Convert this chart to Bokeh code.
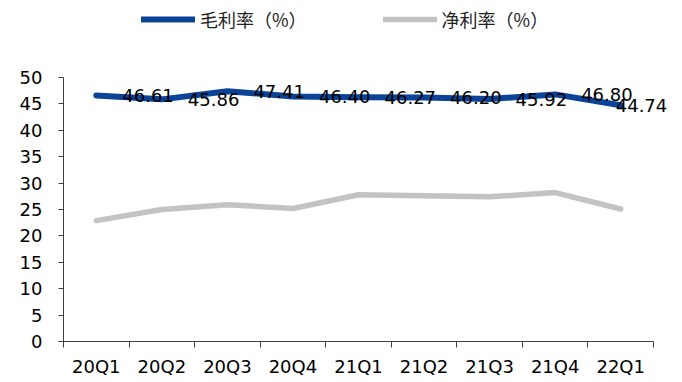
from bokeh.plotting import figure
from bokeh.models import (ColumnDataSource, Range1d, FixedTicker, Legend, LegendItem)
from bokeh.core.properties import value
from bokeh.embed import file_html
from bokeh.resources import INLINE

# Quarterly margins
quarters = ["20Q1", "20Q2", "20Q3", "20Q4", "21Q1", "21Q2", "21Q3", "21Q4", "22Q1"]
gross_margin = [46.61, 45.86, 47.41, 46.40, 46.27, 46.20, 45.92, 46.80, 44.74]
net_margin = [22.9, 25.0, 25.9, 25.2, 27.8, 27.6, 27.4, 28.2, 25.1]
y_ticks = [0, 5, 10, 15, 20, 25, 30, 35, 40, 45, 50]

BLUE = "#0a4398"
GREY = "#c3c3c3"
NUM_FONT = "DejaVu Sans"
CJK_FONT = "Noto Sans CJK SC"

W, H = 682, 382
LEFT, BOTTOM = 63, 41          # room for the axes
AXIS_W, AXIS_H = 590, 264      # drawn extent of the x and y axes
n = len(quarters)
y_max = y_ticks[-1]

# the frame covers the whole area right of / above the axes so that the
# legend and the data labels are never clipped; axes are bounded instead
x_hi = n * (W - LEFT) / AXIS_W
y_hi = y_max * (H - BOTTOM) / AXIS_H

xs = [i + 0.5 for i in range(n)]
# data labels sit to the right of each point; the last one is pulled back
label_dx = [26] * (n - 1) + [-5]

src = ColumnDataSource(dict(
    x=xs,
    gross=gross_margin,
    net=net_margin,
    glabel=[f"{v:.2f}" for v in gross_margin],
    dx=label_dx,
))

p = figure(width=W, height=H, output_backend="svg", toolbar_location=None,
           x_range=Range1d(0, x_hi), y_range=Range1d(0, y_hi),
           min_border_left=LEFT, min_border_right=0, min_border_top=0,
           min_border_bottom=BOTTOM)
p.outline_line_color = None
p.grid.visible = False
p.background_fill_color = "white"
p.border_fill_color = "white"

# x axis: labels at category centres, ticks at category boundaries
p.xaxis.bounds = (0, n)
p.xaxis.ticker = FixedTicker(ticks=xs, minor_ticks=list(range(n + 1)))
p.xaxis.major_label_overrides = {x: q for x, q in zip(xs, quarters)}
p.xaxis.major_tick_out = 0
p.xaxis.major_tick_in = 0
p.xaxis.minor_tick_out = 6
p.xaxis.minor_tick_in = 0
p.xaxis.major_label_standoff = 8
p.xaxis.major_label_text_font = NUM_FONT
p.xaxis.major_label_text_font_size = "18px"
p.xaxis.major_label_text_color = "black"
p.xaxis.axis_line_color = "#404040"
p.xaxis.minor_tick_line_color = "#404040"

p.yaxis.bounds = (0, y_max)
p.yaxis.ticker = FixedTicker(ticks=y_ticks, minor_ticks=[])
p.yaxis.major_tick_out = 5
p.yaxis.major_tick_in = 0
p.yaxis.major_label_standoff = 16
p.yaxis.major_label_text_font = NUM_FONT
p.yaxis.major_label_text_font_size = "18px"
p.yaxis.major_label_text_color = "black"
p.yaxis.axis_line_color = "#404040"
p.yaxis.major_tick_line_color = "#404040"

r_net = p.line("x", "net", source=src, line_color=GREY, line_width=5.5,
               line_cap="round", line_join="round")
r_gross = p.line("x", "gross", source=src, line_color=BLUE, line_width=6,
                 line_cap="round", line_join="round")

p.text("x", "gross", text="glabel", source=src, x_offset="dx",
       text_align="left", text_baseline="middle",
       text_font=value(NUM_FONT), text_font_size="18px", text_color="black")

legend = Legend(items=[LegendItem(label="毛利率（%）", renderers=[r_gross]),
                       LegendItem(label="净利率（%）", renderers=[r_net])],
                orientation="horizontal", location=(78, 309),
                padding=0, margin=0, spacing=76,
                glyph_width=54, glyph_height=20, label_standoff=5,
                label_text_font=CJK_FONT, label_text_font_size="18px",
                label_text_color="#222222",
                border_line_alpha=0, background_fill_alpha=0)
p.add_layout(legend, "center")

open("out.html", "w").write(file_html(p, INLINE))
